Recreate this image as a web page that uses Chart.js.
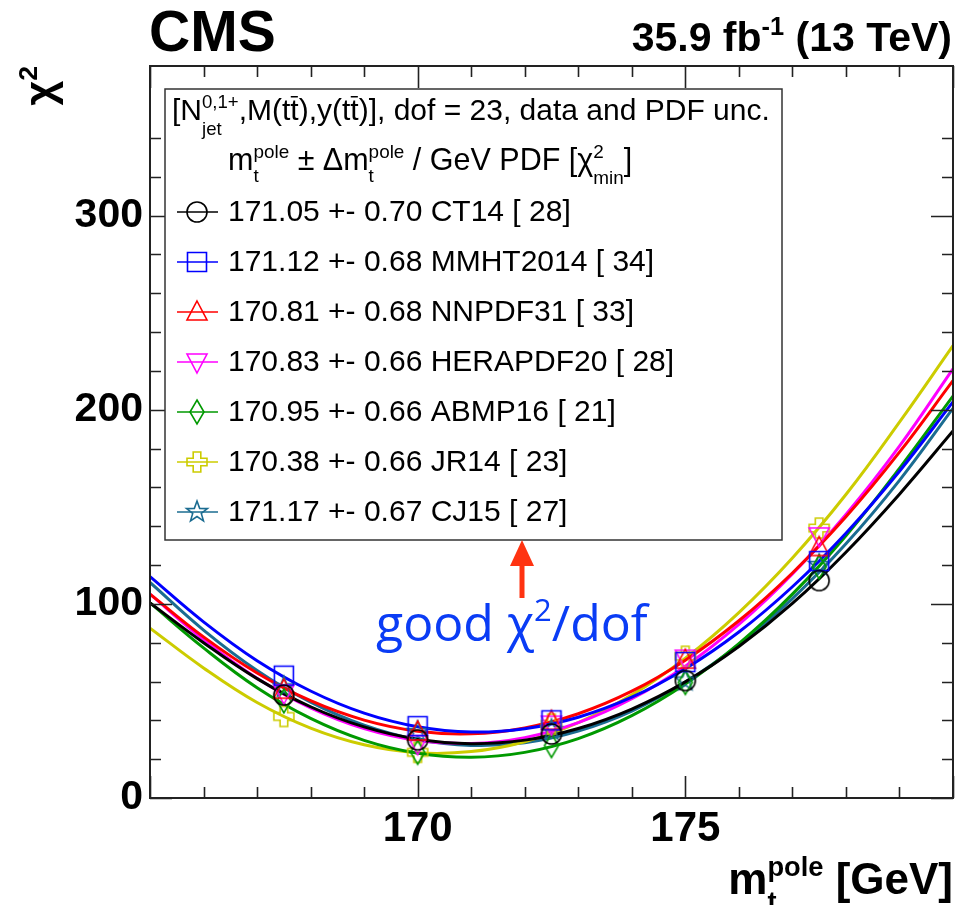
<!DOCTYPE html>
<html>
<head>
<meta charset="utf-8">
<script src="https://cdn.jsdelivr.net/npm/chart.js@4.4.1/dist/chart.umd.min.js"></script>
<style>
  html, body { margin: 0; padding: 0; background: #fff; }
  #chi2Chart { display: block; }
</style>
</head>
<body>
<canvas id="chi2Chart" width="957" height="905" style="width:957px;height:905px"></canvas>
<script>
// Fitted chi2 curves, every 1 GeV
const massGrid = [165, 166, 167, 168, 169, 170, 171, 172, 173, 174, 175, 176, 177, 178, 179, 180];
const ct14Curve = [100.5, 80.0, 61.5, 47.0, 36.6, 30.3, 28.0, 29.8, 35.8, 45.8, 59.8, 78.0, 100.2, 126.6, 156.5, 189];
const mmhtCurve = [114, 90.7, 70.7, 55.1, 43.7, 36.7, 34.0, 35.7, 41.6, 51.9, 66.6, 85.5, 108.8, 136.4, 168.3, 204];
const nnpdfCurve = [105, 83.0, 64.4, 50.1, 40.1, 34.4, 33.1, 36.1, 43.4, 55.0, 71.0, 91.3, 115.9, 144.8, 178.1, 215];
const heraCurve = [105, 81.6, 61.7, 46.4, 35.7, 29.6, 28.1, 31.1, 38.8, 51.1, 67.9, 89.4, 115.4, 146.0, 181.2, 221];
const abmpCurve = [100.5, 77.3, 56.8, 41.0, 29.7, 23.1, 21.0, 23.5, 30.6, 42.4, 58.7, 79.5, 105.0, 135.1, 169.8, 207];
const jr14Curve = [87.5, 67.0, 49.2, 36.0, 27.4, 23.3, 23.9, 29.0, 38.8, 53.1, 72.0, 95.5, 123.6, 156.3, 193.6, 233];
const cj15Curve = [111, 86.5, 65.7, 49.4, 37.5, 30.0, 27.1, 28.5, 34.5, 44.8, 59.7, 79.0, 102.7, 130.9, 163.6, 200.7];

// chi2 values at the simulated mass points
const pointMass = [167.5, 170, 172.5, 175, 177.5];
const ct14Points = [53, 30, 33, 60.5, 112];
const mmhtPoints = [63, 37, 40, 70, 122];
const nnpdfPoints = [55.5, 34, 39.5, 71, 129];
const heraPoints = [54, 28, 38, 72, 135];
const abmpPoints = [50, 23.5, 27, 59.5, 119];
const jr14Points = [42, 23.5, 38, 73, 139];
const cj15Points = [57, 34, 35, 60.5, 120];

// legend numbers
const pdfNames = ['CT14', 'MMHT2014', 'NNPDF31', 'HERAPDF20', 'ABMP16', 'JR14', 'CJ15'];
const mtPole = ['171.05', '171.12', '170.81', '170.83', '170.95', '170.38', '171.17'];
const mtErr = ['0.70', '0.68', '0.68', '0.66', '0.66', '0.66', '0.67'];
const chi2Min = [28, 34, 33, 28, 21, 23, 27];

// labelled mass ticks
const massLabels = [170, 175];

const curves = [ct14Curve, mmhtCurve, nnpdfCurve, heraCurve, abmpCurve, jr14Curve, cj15Curve];
const points = [ct14Points, mmhtPoints, nnpdfPoints, heraPoints, abmpPoints, jr14Points, cj15Points];

const seriesStyle = [
    { color: '#000000', marker: 'circle' },
    { color: '#0000ff', marker: 'square' },
    { color: '#ff0000', marker: 'triUp' },
    { color: '#ff00ff', marker: 'triDown' },
    { color: '#009900', marker: 'diamond' },
    { color: '#cccc00', marker: 'openCross' },
    { color: '#1b6c91', marker: 'star' }
];

const FONT = "'Liberation Sans', Arial, Helvetica, sans-serif";

// open ROOT-like markers drawn into small canvases
function makeMarker(shape, color) {
    const c = document.createElement('canvas');
    c.width = 30; c.height = 30;
    const g = c.getContext('2d');
    g.translate(15, 15);
    g.strokeStyle = color;
    g.lineWidth = 1.6;
    g.beginPath();
    if (shape === 'circle') {
        g.arc(0, 0, 10, 0, Math.PI * 2);
    } else if (shape === 'square') {
        g.rect(-9.5, -9.5, 19, 19);
    } else if (shape === 'triUp') {
        g.moveTo(0, -11); g.lineTo(10, 8); g.lineTo(-10, 8); g.closePath();
    } else if (shape === 'triDown') {
        g.moveTo(0, 11); g.lineTo(10, -8); g.lineTo(-10, -8); g.closePath();
    } else if (shape === 'diamond') {
        g.moveTo(0, -12); g.lineTo(7, 0); g.lineTo(0, 12); g.lineTo(-7, 0); g.closePath();
    } else if (shape === 'openCross') {
        const a = 3.8, e = 10;
        g.moveTo(-a, -e); g.lineTo(a, -e); g.lineTo(a, -a); g.lineTo(e, -a); g.lineTo(e, a);
        g.lineTo(a, a); g.lineTo(a, e); g.lineTo(-a, e); g.lineTo(-a, a); g.lineTo(-e, a);
        g.lineTo(-e, -a); g.lineTo(-a, -a); g.closePath();
    } else if (shape === 'star') {
        for (let k = 0; k < 10; k++) {
            const r = k % 2 === 0 ? 11 : 4.5;
            const ang = -Math.PI / 2 + k * Math.PI / 5;
            const px = r * Math.cos(ang), py = r * Math.sin(ang);
            if (k === 0) g.moveTo(px, py); else g.lineTo(px, py);
        }
        g.closePath();
    }
    g.stroke();
    return c;
}

const markers = seriesStyle.map(s => makeMarker(s.marker, s.color));

const datasets = [];
curves.forEach((vals, i) => {
    datasets.push({
        label: pdfNames[i] + ' fit',
        data: massGrid.map((m, j) => ({ x: m, y: vals[j] })),
        showLine: true,
        borderColor: seriesStyle[i].color,
        borderWidth: 3,
        pointRadius: 0,
        tension: 0.4,
        fill: false,
        order: 2
    });
});
points.forEach((vals, i) => {
    datasets.push({
        label: pdfNames[i],
        data: pointMass.map((m, j) => ({ x: m, y: vals[j] })),
        showLine: false,
        pointStyle: markers[i],
        pointRadius: 10,
        order: 1
    });
});

// rich text: strings, {bar: 't'} for overlined, {sup, sub} for stacked scripts
function partWidth(ctx, p, size, weight, fam) {
    if (typeof p === 'string' || p.bar) {
        ctx.font = weight + ' ' + size + 'px ' + fam;
        return ctx.measureText(typeof p === 'string' ? p : p.bar).width;
    }
    ctx.font = weight + ' ' + (size * 0.62) + 'px ' + fam;
    return Math.max(p.sup ? ctx.measureText(p.sup).width : 0, p.sub ? ctx.measureText(p.sub).width : 0);
}

function drawRich(ctx, parts, x, y, size, weight, fam, align) {
    const widths = parts.map(p => partWidth(ctx, p, size, weight, fam));
    const total = widths.reduce((a, b) => a + b, 0);
    let cx = align === 'right' ? x - total : (align === 'center' ? x - total / 2 : x);
    ctx.textAlign = 'left';
    ctx.textBaseline = 'alphabetic';
    parts.forEach((p, k) => {
        if (typeof p === 'string') {
            ctx.font = weight + ' ' + size + 'px ' + fam;
            ctx.fillText(p, cx, y);
        } else if (p.bar) {
            ctx.font = weight + ' ' + size + 'px ' + fam;
            ctx.fillText(p.bar, cx, y);
            ctx.fillRect(cx + widths[k] * 0.05, y - size * 0.8, widths[k] * 0.85, Math.max(1.2, size * 0.05));
        } else {
            ctx.font = weight + ' ' + (size * 0.62) + 'px ' + fam;
            if (p.sup) ctx.fillText(p.sup, cx, y - size * 0.4);
            if (p.sub) ctx.fillText(p.sub, cx, y + size * (p.low || 0.32));
        }
        cx += widths[k];
    });
}

const decorPlugin = {
    id: 'cmsDecor',
    afterDraw(chart) {
        const ctx = chart.ctx;
        const area = chart.chartArea;
        const xs = chart.scales.x, ys = chart.scales.y;
        ctx.save();

        // frame
        ctx.strokeStyle = '#222';
        ctx.lineWidth = 2;
        ctx.strokeRect(area.left, area.top, area.right - area.left, area.bottom - area.top);

        // inward ticks on all four sides
        ctx.lineWidth = 1.6;
        ctx.beginPath();
        xs.ticks.forEach(t => {
            const px = Math.round(xs.getPixelForValue(t.value)) + 0.5;
            const len = t.value % 5 === 0 ? 22 : 11;
            ctx.moveTo(px, area.bottom); ctx.lineTo(px, area.bottom - len);
            ctx.moveTo(px, area.top); ctx.lineTo(px, area.top + len);
        });
        ys.ticks.forEach(t => {
            if (t.value % 20 !== 0) return;
            const py = Math.round(ys.getPixelForValue(t.value)) + 0.5;
            const len = t.value % 100 === 0 ? 22 : 11;
            ctx.moveTo(area.left, py); ctx.lineTo(area.left + len, py);
            ctx.moveTo(area.right, py); ctx.lineTo(area.right - len, py);
        });
        ctx.stroke();

        ctx.fillStyle = '#000';
        // mass tick labels
        ctx.font = 'bold 42px ' + FONT;
        ctx.textAlign = 'center';
        ctx.textBaseline = 'alphabetic';
        massLabels.forEach(v => ctx.fillText(String(v), xs.getPixelForValue(v), 841));

        // CMS label and luminosity
        ctx.font = 'bold 57px ' + FONT;
        ctx.textAlign = 'left';
        ctx.fillText('CMS', 149, 51);
        drawRich(ctx, ['35.9 fb', { sup: '-1' }, ' (13 TeV)'], 952, 51, 41, 'bold', FONT, 'right');

        // axis titles
        drawRich(ctx, ['m', { sup: 'pole', sub: 't', low: 0.38 }, ' [GeV]'], 953, 894, 44, 'bold', FONT, 'right');
        ctx.save();
        ctx.translate(54, 66);
        ctx.rotate(-Math.PI / 2);
        drawRich(ctx, ['\u03c7', { sup: '2' }], 0, 0, 43, 'bold', FONT, 'right');
        ctx.restore();

        // legend box
        const bx = 165, by = 89, bw = 617, bh = 451;
        ctx.fillStyle = '#fff';
        ctx.fillRect(bx, by, bw, bh);
        ctx.strokeStyle = '#333';
        ctx.lineWidth = 1.5;
        ctx.strokeRect(bx, by, bw, bh);
        ctx.fillStyle = '#000';
        drawRich(ctx, ['[N', { sup: '0,1+', sub: 'jet', low: 0.5 }, ',M(t', { bar: 't' }, '),y(t', { bar: 't' },
            ')], dof = 23, data and PDF unc.'], 172, 120, 30, 'normal', FONT, 'left');
        drawRich(ctx, ['m', { sup: 'pole', sub: 't', low: 0.38 }, ' \u00b1 \u0394m', { sup: 'pole', sub: 't', low: 0.38 },
            ' / GeV PDF [\u03c7', { sup: '2', sub: 'min', low: 0.45 }, ']'], 228, 170, 30.5, 'normal', FONT, 'left');

        pdfNames.forEach((name, i) => {
            const cy = 212 + i * 50;
            ctx.strokeStyle = seriesStyle[i].color;
            ctx.lineWidth = 1.5;
            ctx.beginPath();
            ctx.moveTo(177, cy); ctx.lineTo(218, cy);
            ctx.stroke();
            ctx.drawImage(markers[i], 197 - 15, cy - 15);
            ctx.fillStyle = '#000';
            ctx.font = '30px ' + FONT;
            ctx.textAlign = 'left';
            ctx.textBaseline = 'middle';
            ctx.fillText(mtPole[i] + ' +- ' + mtErr[i] + ' ' + name + ' [ ' + chi2Min[i] + ']', 228, cy + 1);
        });

        // arrow and "good chi2/dof"
        ctx.fillStyle = '#ff3311';
        ctx.fillRect(519.5, 562, 5, 36);
        ctx.beginPath();
        ctx.moveTo(510, 566); ctx.lineTo(534, 566); ctx.lineTo(522, 540); ctx.closePath();
        ctx.fill();
        ctx.fillStyle = '#0a3cf5';
        drawRich(ctx, ['good \u03c7', { sup: '2' }, '/dof'], 376, 641, 50, 'normal', "'Open Sans', 'Noto Sans', sans-serif", 'left');

        ctx.restore();
    }
};

new Chart(document.getElementById('chi2Chart'), {
    type: 'scatter',
    data: { datasets: datasets },
    options: {
        responsive: false,
        devicePixelRatio: 1,
        animation: false,
        layout: { autoPadding: false, padding: { left: 0, top: 66, right: 4, bottom: 0 } },
        plugins: { legend: { display: false }, tooltip: { enabled: false } },
        scales: {
            x: {
                type: 'linear',
                min: 165,
                max: 180,
                grid: { display: false, drawTicks: false },
                border: { display: false },
                ticks: { stepSize: 1, autoSkip: false, display: false },
                afterFit: s => { s.height = 107; }
            },
            y: {
                type: 'linear',
                min: 0,
                max: 377,
                grid: { display: false, drawTicks: false },
                border: { display: false },
                ticks: {
                    stepSize: 20,
                    autoSkip: false,
                    padding: 7,
                    color: '#000',
                    font: { family: FONT, size: 41, weight: 'bold' },
                    callback: v => (v % 100 === 0) ? String(v) : ''
                },
                afterFit: s => { s.width = 150; s.paddingTop = 0; s.paddingBottom = 0; }
            }
        }
    },
    plugins: [decorPlugin]
});
</script>
</body>
</html>
